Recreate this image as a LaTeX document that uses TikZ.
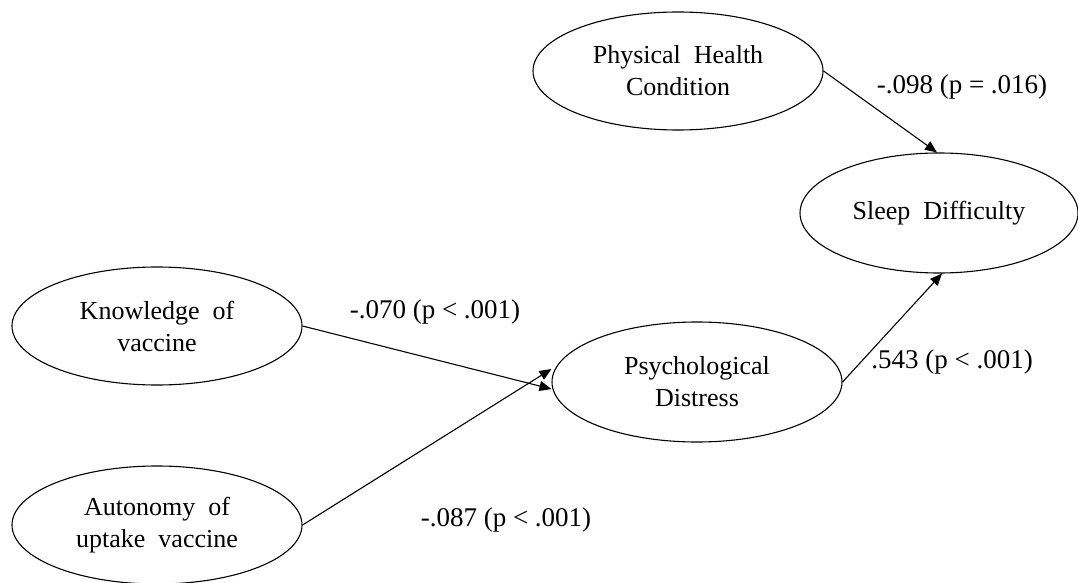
\documentclass[tikz,border=0pt]{standalone}
\usepackage{fontspec}
\setmainfont{Liberation Serif}
\usetikzlibrary{shapes.geometric,arrows.meta}
\begin{document}
\begin{tikzpicture}[x=1pt,y=-1pt,
  var/.style={draw,ellipse,line width=1.1pt,inner sep=0pt,align=center,
    minimum width=290pt,minimum height=118pt,
    font=\fontsize{26}{32}\selectfont},
  path/.style={draw,line width=1.1pt,-{Triangle[length=12pt,width=10pt]}},
  lab/.style={font=\fontsize{27}{30}\selectfont,inner sep=0pt}]
\useasboundingbox[fill=white] (0,0) rectangle (1078,583);
\node[var] (phc) at (678,71) {Physical\ \ Health\\Condition};
\node[var,minimum width=278pt,minimum height=120pt] (sd) at (939,213) {Sleep\ \ Difficulty};
\node[var] (kv) at (157,326) {Knowledge\ \ of\\vaccine};
\node[var,minimum height=120pt] (pd) at (697,382) {Psychological\\Distress};
\node[var] (au) at (157,525) {Autonomy\ \ of\\uptake\ \ vaccine};
\draw[path] (kv.east) -- ([yshift=-7pt]pd.west);
\draw[path] (au.east) -- ([yshift=13pt]pd.west);
\draw[path] (pd.east) -- ([xshift=3pt]sd.south);
\draw[path] (phc.east) -- ([xshift=-2pt]sd.north);
\node[lab] (l1) at (435,312) {-.070 (p < .001)};
\node[lab] (l2) at (506,520) {-.087 (p < .001)};
\node[lab] (l3) at (952,362) {.543 (p < .001)};
\node[lab] (l4) at (962,87) {-.098 (p = .016)};
\end{tikzpicture}
\end{document}
